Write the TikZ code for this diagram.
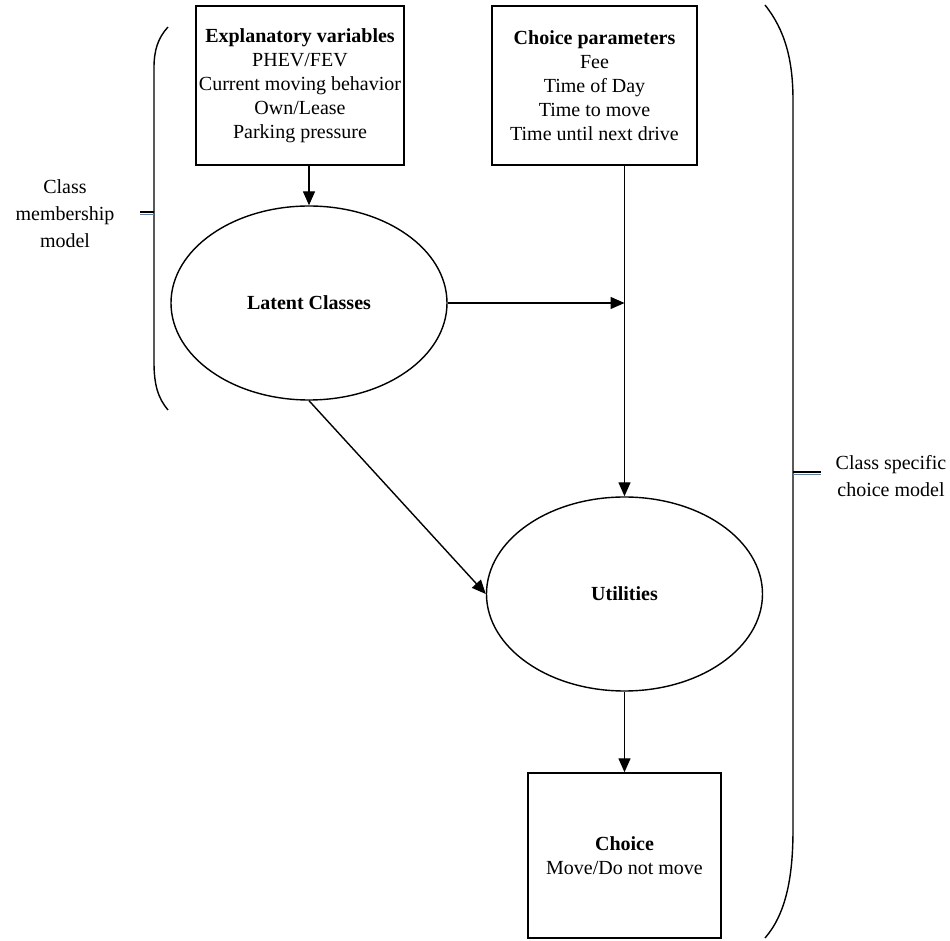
\documentclass[tikz,border=0pt]{standalone}
\usepackage{fontspec}
\setmainfont{Liberation Serif}
\usetikzlibrary{shapes.geometric,arrows.meta}
\definecolor{brkblue}{RGB}{70,130,200}

\begin{document}
\begin{tikzpicture}[x=0.5pt,y=-0.5pt,line width=0.7pt,
	>={Triangle[length=7pt,width=6pt]},
	box/.style={draw,rectangle,align=center,inner sep=0pt},
	oval/.style={draw,ellipse,minimum width=138pt,minimum height=97pt,inner sep=0pt,font=\bfseries},
	side/.style={align=center,font=\fontsize{10}{13.5}\selectfont}]
	\useasboundingbox (0,0) rectangle (950,941);
	% boxes and ovals
	\node[box,minimum width=104pt,minimum height=79.5pt] (expl) at (300,85.5)
		{\textbf{Explanatory variables}\\PHEV/FEV\\Current moving behavior\\Own/Lease\\Parking pressure};
	\node[box,minimum width=102.5pt,minimum height=79.5pt] (param) at (594.5,85.5)
		{\textbf{Choice parameters}\\Fee\\Time of Day\\Time to move\\Time until next drive};
	\node[oval] (lat) at (309,303) {Latent Classes};
	\node[oval] (util) at (624.5,594) {Utilities};
	\node[box,minimum width=96.5pt,minimum height=82.5pt] (choice) at (624.5,855.5)
		{\textbf{Choice}\\Move/Do not move};
	\coordinate (join) at (lat.east -| util.north);
	% connectors
	\draw (param.south -| util.north) -- (join);
	\path[->]
		(expl.south -| lat.north) edge (lat.north)
		(lat.east) edge (join)
		(join) edge (util.north)
		(lat.south) edge (util.west)
		(util.south) edge (choice.north);
	% brackets
	\draw (168,27) .. controls (158,38) and (154,50) .. (154,68) -- (154,362)
		.. controls (154,385) and (158,398) .. (168,410);
	\draw (154,212) -- (140,212);
	\draw[brkblue] (154,214.5) -- (140,214.5);
	\node[side] (cmm) at (65,214) {Class\\membership\\model};
	\draw (765,5) .. controls (785,30) and (793,60) .. (793,100) -- (793,830)
		.. controls (793,880) and (785,915) .. (765,938);
	\draw (793,472) -- (821,472);
	\draw[brkblue] (793,474.5) -- (821,474.5);
	\node[side] (cscm) at (891,476) {Class specific\\choice model};
\end{tikzpicture}
\end{document}
